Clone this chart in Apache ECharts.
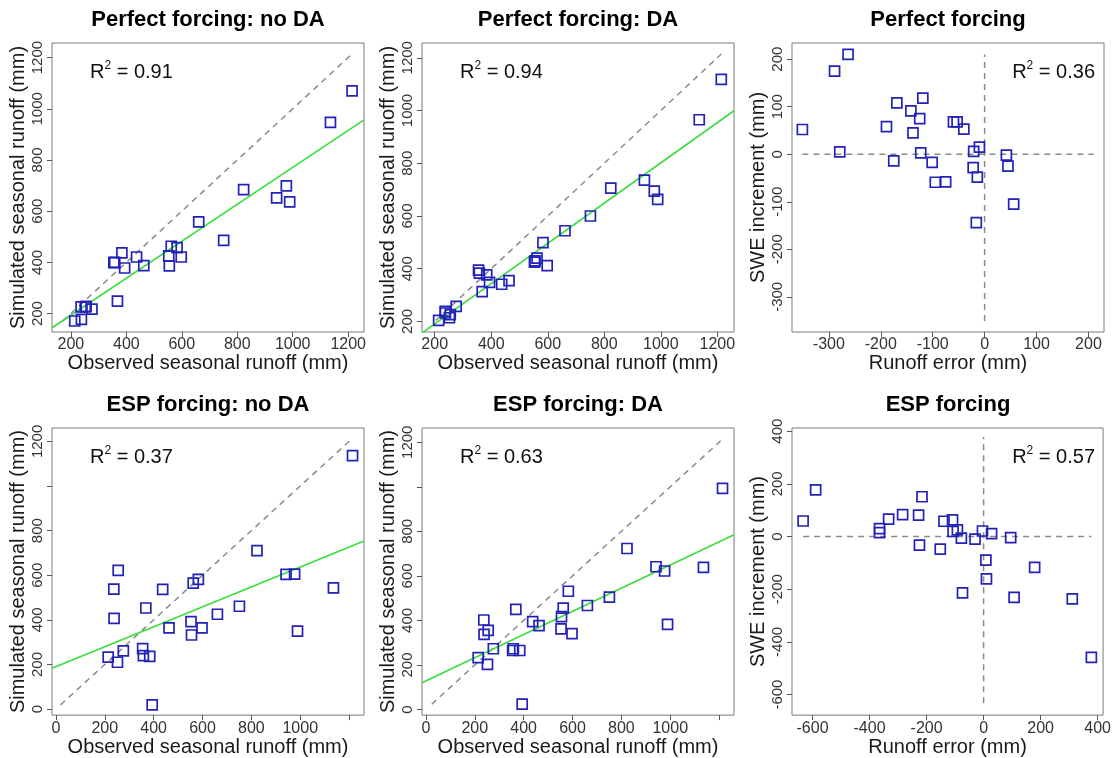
<!DOCTYPE html>
<html>
<head>
<meta charset="utf-8">
<title>Seasonal runoff and SWE increment</title>
<script src="https://cdn.jsdelivr.net/npm/echarts@6/dist/echarts.min.js"></script>
<style>
html, body { margin: 0; padding: 0; background: #fff; }
#chart { width: 1114px; height: 758px; }
</style>
</head>
<body>
<div id="chart"></div>
<script>
// observed seasonal runoff (mm), same years in the four runoff panels
var obsRunoff = [214, 237, 238, 252, 255, 276, 355, 358, 368, 384, 394, 437, 463, 553, 555, 562, 583, 598, 661, 751, 823, 942, 977, 989, 1136, 1214];
// simulated seasonal runoff (mm), same order as obsRunoff
var simPerfectNoDA = [171, 226, 177, 226, 228, 217, 399, 400, 249, 437, 378, 421, 387, 425, 386, 463, 458, 421, 558, 486, 684, 652, 699, 636, 947, 1070];
var simPerfectDA = [204, 238, 232, 214, 226, 257, 395, 383, 313, 377, 348, 341, 355, 425, 430, 440, 499, 412, 544, 600, 706, 736, 694, 663, 965, 1118];
var simEspNoDA = [233, 538, 407, 210, 622, 261, 271, 240, 453, 236, 19, 537, 364, 392, 332, 565, 581, 364, 425, 461, 710, 604, 605, 349, 543, 1136];
var simEspDA = [233, 402, 337, 203, 355, 273, 265, 273, 450, 265, 24, 395, 377, 362, 417, 455, 531, 341, 467, 505, 723, 641, 622, 382, 638, 993];
// runoff error vs SWE increment (mm)
var runoffErrPerfect = [-263, -289, -351, -279, -169, -119, -142, -125, -189, -138, -175, -123, -101, -95, -75, -60, -53, -40, -21, -10, -22, -14, -16, 42, 45, 56];
var sweIncPerfect = [210, 175, 52, 5, 108, 118, 91, 75, 58, 45, -14, 3, -17, -59, -58, 68, 68, 53, 6, 15, -28, -48, -144, -2, -25, -105];
var runoffErrEsp = [-633, -589, -365, -365, -333, -284, -228, -216, -225, -152, -139, -109, -107, -92, -78, -74, -30, -4, 28, 8, 10, 95, 179, 107, 311, 378];
var sweIncEsp = [59, 177, 30, 15, 66, 83, 81, 151, -33, -48, 58, 63, 19, 25, -6, -214, -10, 21, 11, -90, -161, -4, -117, -231, -237, -459];

var panelTitles = ['Perfect forcing: no DA', 'Perfect forcing: DA', 'Perfect forcing',
                   'ESP forcing: no DA', 'ESP forcing: DA', 'ESP forcing'];
var r2Labels = ['0.91', '0.94', '0.36', '0.37', '0.63', '0.57'];
var runoffTicksTop = [200, 400, 600, 800, 1000, 1200];
var runoffTicksBottom = [0, 200, 400, 600, 800, 1000, 1200];
var runoffXLabelsBottom = [0, 200, 400, 600, 800, 1000];
var runoffYLabelsBottom = [0, 200, 400, 600, 800, 1200];
var ticksErrPerfect = [-300, -200, -100, 0, 100, 200];
var ticksSwePerfect = [-300, -200, -100, 0, 100, 200];
var ticksErrEsp = [-600, -400, -200, 0, 200, 400];
var ticksSweEsp = [-600, -400, -200, 0, 200, 400];

var FONT = '"Liberation Sans", Arial, Helvetica, sans-serif';
var PW = 312;

// panel layout: grid box, axis ranges, ticks
var panels = [
	{ x: obsRunoff, y: simPerfectNoDA, kind: 'runoff', left: 52, top: 43, h: 289,
	  xr: [132, 1257], yr: [128, 1257], xt: runoffTicksTop, xl: runoffTicksTop, yt: runoffTicksTop, yl: runoffTicksTop },
	{ x: obsRunoff, y: simPerfectDA, kind: 'runoff', left: 422, top: 43, h: 289,
	  xr: [155, 1259], yr: [160, 1256], xt: runoffTicksTop, xl: runoffTicksTop, yt: runoffTicksTop, yl: runoffTicksTop },
	{ x: runoffErrPerfect, y: sweIncPerfect, kind: 'swe', left: 792, top: 43, h: 289,
	  xr: [-371, 230], yr: [-374, 234], xt: ticksErrPerfect, xl: ticksErrPerfect, yt: ticksSwePerfect, yl: ticksSwePerfect },
	{ x: obsRunoff, y: simEspNoDA, kind: 'runoff', left: 52, top: 428, h: 288,
	  xr: [-16, 1261], yr: [-27, 1260], xt: runoffTicksBottom, xl: runoffXLabelsBottom, yt: runoffTicksBottom, yl: runoffYLabelsBottom },
	{ x: obsRunoff, y: simEspDA, kind: 'runoff', left: 422, top: 428, h: 288,
	  xr: [-16, 1261], yr: [-25, 1264], xt: runoffTicksBottom, xl: runoffXLabelsBottom, yt: runoffTicksBottom, yl: runoffYLabelsBottom },
	{ x: runoffErrEsp, y: sweIncEsp, kind: 'swe', left: 792, top: 428, h: 288,
	  xr: [-672, 419], yr: [-678, 412], xt: ticksErrEsp, xl: ticksErrEsp, yt: ticksSweEsp, yl: ticksSweEsp }
];

// least squares fit of y on x
function fitLine(xs, ys) {
	var n = xs.length, mx = 0, my = 0, sxy = 0, sxx = 0;
	for (var i = 0; i < n; i++) { mx += xs[i]; my += ys[i]; }
	mx /= n; my /= n;
	for (var i = 0; i < n; i++) {
		sxy += (xs[i] - mx) * (ys[i] - my);
		sxx += (xs[i] - mx) * (xs[i] - mx);
	}
	var b = sxy / sxx;
	return { a: my - b * mx, b: b };
}

function pairs(xs, ys) {
	var out = [];
	for (var i = 0; i < xs.length; i++) out.push([xs[i], ys[i]]);
	return out;
}

// plain numbers, no thousands separator
function plain(v) { return String(v); }

var dashStyle = { color: '#8a8a8a', width: 1.5, type: [6, 5] };
var grids = [], xAxes = [], yAxes = [], series = [], graphics = [];

panels.forEach(function(p, i) {
	grids.push({ left: p.left, top: p.top, width: PW, height: p.h, show: true,
		borderColor: '#7a7a7a', borderWidth: 1, backgroundColor: 'transparent' });

	xAxes.push({
		gridIndex: i, type: 'value', min: p.xr[0], max: p.xr[1],
		axisLine: { show: false, onZero: false },
		axisTick: { show: true, inside: false, length: 5, customValues: p.xt, lineStyle: { color: '#555' } },
		axisLabel: { customValues: p.xl, formatter: plain, fontSize: 16, color: '#333', margin: 5, fontFamily: FONT },
		splitLine: { show: false },
		name: p.kind === 'runoff' ? 'Observed seasonal runoff (mm)' : 'Runoff error (mm)',
		nameLocation: 'middle', nameGap: 17,
		nameTextStyle: { fontSize: 20, color: '#1a1a1a', fontFamily: FONT }
	});
	yAxes.push({
		gridIndex: i, type: 'value', min: p.yr[0], max: p.yr[1],
		axisLine: { show: false, onZero: false },
		axisTick: { show: true, inside: false, length: 5, customValues: p.yt, lineStyle: { color: '#555' } },
		axisLabel: { customValues: p.yl, formatter: plain, fontSize: 15, color: '#333', margin: 7, rotate: 90, fontFamily: FONT },
		splitLine: { show: false },
		name: p.kind === 'runoff' ? 'Simulated seasonal runoff (mm)' : 'SWE increment (mm)',
		nameLocation: 'middle', nameGap: 24,
		nameTextStyle: { fontSize: 20, color: '#1a1a1a', fontFamily: FONT }
	});

	var all = p.x.concat(p.y);
	var lo = Math.min.apply(null, all), hi = Math.max.apply(null, all);
	if (p.kind === 'runoff') {
		var f = fitLine(p.x, p.y);
		series.push({ type: 'line', xAxisIndex: i, yAxisIndex: i, symbol: 'none', silent: true,
			data: [[lo, lo], [hi, hi]], lineStyle: dashStyle, z: 1 });
		series.push({ type: 'line', xAxisIndex: i, yAxisIndex: i, symbol: 'none', silent: true,
			data: [[p.xr[0], f.a + f.b * p.xr[0]], [p.xr[1], f.a + f.b * p.xr[1]]],
			lineStyle: { color: '#3ddc3d', width: 1.6 }, z: 2 });
	} else {
		series.push({ type: 'line', xAxisIndex: i, yAxisIndex: i, symbol: 'none', silent: true,
			data: [[lo, 0], [hi, 0]], lineStyle: dashStyle, z: 1 });
		series.push({ type: 'line', xAxisIndex: i, yAxisIndex: i, symbol: 'none', silent: true,
			data: [[0, lo], [0, hi]], lineStyle: dashStyle, z: 1 });
	}
	series.push({ type: 'scatter', xAxisIndex: i, yAxisIndex: i, symbol: 'rect', symbolSize: 10,
		data: pairs(p.x, p.y), z: 3,
		itemStyle: { color: 'rgba(0,0,0,0)', borderColor: '#2222b8', borderWidth: 1.7, opacity: 1 } });

	// panel title
	graphics.push({ type: 'text', x: p.left + PW / 2, y: p.top - 23,
		style: { text: panelTitles[i], font: 'bold 22px ' + FONT, fill: '#000',
			align: 'center', verticalAlign: 'middle', textAlign: 'center', textVerticalAlign: 'middle' } });

	// R squared annotation
	var right = p.kind === 'swe';
	graphics.push({ type: 'text', x: right ? p.left + 303 : p.left + 38, y: p.top + 29,
		style: { text: '{r|R}{s|2}{r| = ' + r2Labels[i] + '}', fill: '#111',
			align: right ? 'right' : 'left', textAlign: right ? 'right' : 'left',
			verticalAlign: 'middle', textVerticalAlign: 'middle',
			rich: {
				r: { fontSize: 20, fontFamily: FONT, lineHeight: 24, fill: '#111' },
				s: { fontSize: 12, fontFamily: FONT, lineHeight: 12, verticalAlign: 'top', fill: '#111' }
			} } });
});

var chart = echarts.init(document.getElementById('chart'));
chart.setOption({
	animation: false,
	backgroundColor: '#fff',
	textStyle: { fontFamily: FONT },
	grid: grids,
	xAxis: xAxes,
	yAxis: yAxes,
	series: series,
	graphic: graphics
});
</script>
</body>
</html>
